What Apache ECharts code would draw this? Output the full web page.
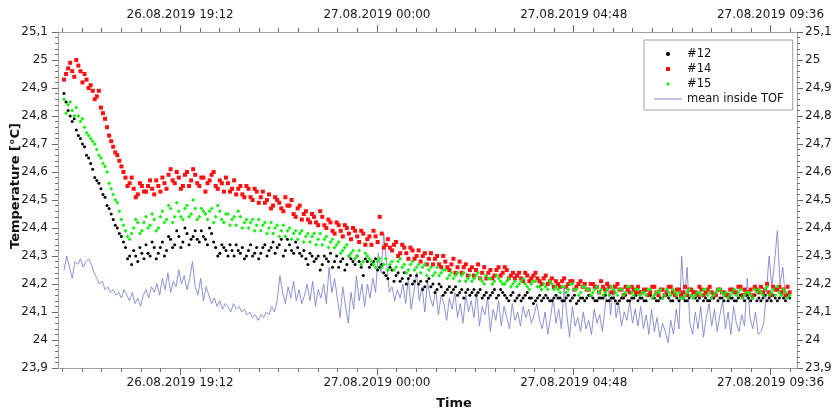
<!DOCTYPE html>
<html>
<head>
<meta charset="utf-8">
<script src="https://cdn.jsdelivr.net/npm/echarts@6/dist/echarts.min.js"></script>
<style>
  html, body { margin: 0; padding: 0; background: #fff; }
  #chart { width: 837px; height: 411px; }
</style>
</head>
<body>
<div id="chart"></div>
<script>
// x values are minutes since 26.08.2019 00:00
const X_MIN = 973.2;
const X_MAX = 2054.8;
const majorTicks = [1152, 1440, 1728, 2016];
const tickLabels = ['26.08.2019 19:12', '27.08.2019 00:00', '27.08.2019 04:48', '27.08.2019 09:36'];

// sensors sampled every 3 min from 16:22, mean every 4 min
const SENSOR_START = 982;
const SENSOR_STEP = 3;
const MEAN_START = 982;
const MEAN_STEP = 4;

const temp12 = [
  24.88, 24.85, 24.82, 24.80, 24.78, 24.79, 24.75, 24.73, 24.72, 24.70, 24.69, 24.66, 24.65, 24.63, 24.61, 24.58, 24.57, 24.56, 24.54, 24.52,
  24.51, 24.48, 24.47, 24.45, 24.43, 24.41, 24.40, 24.38, 24.37, 24.35, 24.33, 24.29, 24.30, 24.27, 24.32, 24.30, 24.28, 24.33, 24.31, 24.29,
  24.34, 24.31, 24.30, 24.35, 24.33, 24.29, 24.31, 24.33, 24.35, 24.30, 24.32, 24.37, 24.36, 24.33, 24.34, 24.39, 24.37, 24.33, 24.35, 24.40,
  24.38, 24.34, 24.36, 24.37, 24.39, 24.36, 24.35, 24.39, 24.37, 24.36, 24.34, 24.40, 24.38, 24.35, 24.33, 24.30, 24.31, 24.34, 24.33, 24.32,
  24.30, 24.34, 24.32, 24.30, 24.34, 24.32, 24.31, 24.33, 24.29, 24.30, 24.32, 24.34, 24.30, 24.31, 24.33, 24.29, 24.31, 24.33, 24.34, 24.30,
  24.32, 24.33, 24.35, 24.31, 24.33, 24.34, 24.36, 24.30, 24.32, 24.36, 24.34, 24.32, 24.31, 24.35, 24.33, 24.31, 24.30, 24.32, 24.29, 24.27,
  24.31, 24.30, 24.28, 24.29, 24.30, 24.25, 24.27, 24.30, 24.29, 24.28, 24.31, 24.26, 24.28, 24.30, 24.26, 24.28, 24.29, 24.25, 24.27, 24.30,
  24.29, 24.28, 24.27, 24.30, 24.28, 24.26, 24.23, 24.29, 24.28, 24.26, 24.27, 24.28, 24.29, 24.25, 24.26, 24.27, 24.24, 24.23, 24.22, 24.26,
  24.25, 24.21, 24.23, 24.24, 24.21, 24.22, 24.24, 24.20, 24.22, 24.23, 24.20, 24.21, 24.23, 24.20, 24.21, 24.18, 24.19, 24.21, 24.22, 24.19,
  24.20, 24.17, 24.18, 24.20, 24.19, 24.16, 24.17, 24.18, 24.19, 24.17, 24.18, 24.19, 24.16, 24.17, 24.18, 24.15, 24.17, 24.18, 24.16, 24.17,
  24.18, 24.16, 24.17, 24.18, 24.15, 24.16, 24.17, 24.15, 24.16, 24.17, 24.18, 24.15, 24.16, 24.18, 24.17, 24.16, 24.15, 24.14, 24.16, 24.17,
  24.14, 24.15, 24.16, 24.14, 24.15, 24.16, 24.17, 24.15, 24.15, 24.13, 24.14, 24.15, 24.16, 24.14, 24.15, 24.16, 24.15, 24.14, 24.14, 24.15,
  24.16, 24.15, 24.15, 24.14, 24.14, 24.15, 24.16, 24.14, 24.15, 24.16, 24.13, 24.14, 24.15, 24.15, 24.14, 24.15, 24.16, 24.16, 24.15, 24.14,
  24.14, 24.15, 24.15, 24.15, 24.16, 24.14, 24.14, 24.15, 24.15, 24.14, 24.13, 24.14, 24.15, 24.15, 24.16, 24.14, 24.14, 24.15, 24.15, 24.16,
  24.14, 24.15, 24.15, 24.14, 24.14, 24.16, 24.16, 24.15, 24.15, 24.14, 24.14, 24.15, 24.15, 24.16, 24.16, 24.15, 24.14, 24.14, 24.16, 24.15,
  24.14, 24.15, 24.15, 24.14, 24.14, 24.15, 24.16, 24.15, 24.15, 24.14, 24.15, 24.16, 24.14, 24.15, 24.14, 24.14, 24.15, 24.15, 24.16, 24.14,
  24.15, 24.15, 24.14, 24.16, 24.14, 24.15, 24.15, 24.14, 24.14, 24.15, 24.16, 24.15, 24.14, 24.16, 24.15, 24.14, 24.15, 24.16, 24.14, 24.15,
  24.14, 24.15, 24.16, 24.14, 24.15, 24.14, 24.16, 24.15, 24.14, 24.15, 24.17, 24.15, 24.14, 24.16, 24.15
];

const temp14 = [
  24.93, 24.95, 24.97, 24.99, 24.96, 24.94, 25.00, 24.98, 24.96, 24.92, 24.95, 24.93, 24.90, 24.91, 24.89, 24.86, 24.87, 24.89, 24.83, 24.81,
  24.79, 24.76, 24.73, 24.71, 24.69, 24.67, 24.66, 24.64, 24.62, 24.60, 24.58, 24.55, 24.56, 24.58, 24.54, 24.51, 24.52, 24.56, 24.55, 24.53,
  24.53, 24.55, 24.57, 24.54, 24.52, 24.57, 24.55, 24.53, 24.58, 24.56, 24.54, 24.59, 24.61, 24.57, 24.56, 24.60, 24.58, 24.54, 24.55, 24.59,
  24.60, 24.55, 24.57, 24.61, 24.59, 24.56, 24.55, 24.58, 24.58, 24.53, 24.56, 24.57, 24.59, 24.60, 24.55, 24.54, 24.57, 24.56, 24.53, 24.58,
  24.56, 24.53, 24.54, 24.57, 24.52, 24.54, 24.55, 24.52, 24.51, 24.55, 24.54, 24.51, 24.50, 24.54, 24.53, 24.49, 24.51, 24.53, 24.49, 24.50,
  24.52, 24.47, 24.48, 24.51, 24.50, 24.49, 24.47, 24.46, 24.51, 24.48, 24.48, 24.50, 24.45, 24.44, 24.47, 24.48, 24.43, 24.45, 24.46, 24.43,
  24.42, 24.45, 24.44, 24.42, 24.41, 24.46, 24.44, 24.41, 24.40, 24.43, 24.42, 24.39, 24.38, 24.42, 24.41, 24.39, 24.37, 24.41, 24.40, 24.38,
  24.36, 24.40, 24.39, 24.37, 24.35, 24.39, 24.38, 24.34, 24.36, 24.37, 24.34, 24.39, 24.37, 24.35, 24.44, 24.38, 24.33, 24.34, 24.36, 24.33,
  24.32, 24.34, 24.35, 24.30, 24.31, 24.34, 24.33, 24.31, 24.29, 24.33, 24.32, 24.29, 24.30, 24.32, 24.28, 24.30, 24.31, 24.27, 24.29, 24.31,
  24.27, 24.29, 24.30, 24.27, 24.26, 24.30, 24.28, 24.26, 24.25, 24.27, 24.29, 24.24, 24.26, 24.28, 24.24, 24.26, 24.27, 24.23, 24.25, 24.26,
  24.23, 24.25, 24.27, 24.22, 24.24, 24.26, 24.22, 24.24, 24.25, 24.22, 24.23, 24.25, 24.26, 24.23, 24.24, 24.26, 24.25, 24.22, 24.23, 24.24,
  24.22, 24.23, 24.24, 24.22, 24.21, 24.24, 24.23, 24.21, 24.22, 24.23, 24.24, 24.22, 24.21, 24.20, 24.22, 24.23, 24.20, 24.21, 24.22, 24.19,
  24.21, 24.20, 24.19, 24.21, 24.22, 24.19, 24.20, 24.21, 24.21, 24.18, 24.19, 24.20, 24.21, 24.19, 24.20, 24.18, 24.18, 24.20, 24.20, 24.19,
  24.19, 24.17, 24.21, 24.19, 24.18, 24.20, 24.19, 24.17, 24.17, 24.19, 24.20, 24.18, 24.18, 24.16, 24.19, 24.18, 24.17, 24.19, 24.18, 24.17,
  24.19, 24.17, 24.17, 24.18, 24.18, 24.16, 24.17, 24.19, 24.19, 24.17, 24.16, 24.18, 24.18, 24.16, 24.17, 24.19, 24.19, 24.17, 24.16, 24.18,
  24.18, 24.16, 24.17, 24.19, 24.16, 24.18, 24.18, 24.17, 24.17, 24.16, 24.19, 24.18, 24.16, 24.17, 24.18, 24.19, 24.17, 24.16, 24.16, 24.18,
  24.18, 24.17, 24.17, 24.16, 24.16, 24.18, 24.18, 24.17, 24.17, 24.19, 24.19, 24.16, 24.18, 24.17, 24.17, 24.18, 24.16, 24.19, 24.18, 24.17,
  24.19, 24.17, 24.18, 24.20, 24.17, 24.16, 24.19, 24.18, 24.18, 24.19, 24.17, 24.18, 24.16, 24.19, 24.17
];

const temp15 = [
  24.86, 24.81, 24.84, 24.85, 24.82, 24.80, 24.83, 24.80, 24.78, 24.79, 24.76, 24.74, 24.73, 24.72, 24.71, 24.70, 24.68, 24.66, 24.65, 24.63,
  24.62, 24.60, 24.56, 24.54, 24.52, 24.50, 24.49, 24.46, 24.43, 24.41, 24.39, 24.37, 24.36, 24.38, 24.40, 24.43, 24.42, 24.38, 24.39, 24.42,
  24.44, 24.40, 24.41, 24.45, 24.43, 24.39, 24.40, 24.44, 24.46, 24.42, 24.43, 24.48, 24.47, 24.42, 24.44, 24.49, 24.46, 24.44, 24.43, 24.47,
  24.48, 24.44, 24.45, 24.50, 24.47, 24.43, 24.44, 24.47, 24.46, 24.45, 24.43, 24.46, 24.47, 24.42, 24.44, 24.48, 24.46, 24.43, 24.42, 24.45,
  24.45, 24.41, 24.43, 24.44, 24.41, 24.46, 24.44, 24.40, 24.42, 24.43, 24.40, 24.42, 24.43, 24.39, 24.41, 24.43, 24.39, 24.41, 24.42, 24.38,
  24.40, 24.42, 24.38, 24.40, 24.41, 24.37, 24.39, 24.41, 24.37, 24.39, 24.40, 24.36, 24.38, 24.39, 24.36, 24.38, 24.39, 24.35, 24.37, 24.38,
  24.35, 24.37, 24.38, 24.34, 24.36, 24.38, 24.34, 24.36, 24.37, 24.33, 24.35, 24.36, 24.33, 24.34, 24.35, 24.31, 24.32, 24.33, 24.34, 24.30,
  24.31, 24.32, 24.29, 24.30, 24.32, 24.27, 24.28, 24.31, 24.30, 24.29, 24.28, 24.27, 24.26, 24.28, 24.29, 24.26, 24.27, 24.29, 24.25, 24.27,
  24.28, 24.25, 24.26, 24.28, 24.29, 24.26, 24.27, 24.24, 24.25, 24.27, 24.28, 24.25, 24.26, 24.27, 24.24, 24.26, 24.27, 24.23, 24.25, 24.26,
  24.23, 24.24, 24.26, 24.23, 24.24, 24.25, 24.25, 24.22, 24.23, 24.24, 24.22, 24.23, 24.24, 24.21, 24.23, 24.24, 24.21, 24.22, 24.23, 24.21,
  24.22, 24.23, 24.24, 24.22, 24.21, 24.20, 24.23, 24.22, 24.22, 24.20, 24.21, 24.23, 24.22, 24.21, 24.20, 24.20, 24.21, 24.22, 24.19, 24.20,
  24.21, 24.19, 24.20, 24.21, 24.22, 24.20, 24.19, 24.18, 24.20, 24.21, 24.21, 24.19, 24.19, 24.18, 24.20, 24.19, 24.18, 24.21, 24.20, 24.18,
  24.19, 24.18, 24.17, 24.19, 24.19, 24.17, 24.18, 24.20, 24.20, 24.18, 24.18, 24.16, 24.17, 24.19, 24.19, 24.18, 24.18, 24.16, 24.17, 24.18,
  24.19, 24.17, 24.18, 24.16, 24.17, 24.18, 24.16, 24.19, 24.18, 24.17, 24.16, 24.18, 24.18, 24.16, 24.17, 24.19, 24.19, 24.17, 24.16, 24.18,
  24.18, 24.16, 24.17, 24.17, 24.16, 24.18, 24.18, 24.15, 24.16, 24.17, 24.17, 24.18, 24.15, 24.16, 24.18, 24.17, 24.16, 24.18, 24.17, 24.16,
  24.17, 24.15, 24.15, 24.16, 24.17, 24.18, 24.16, 24.15, 24.16, 24.17, 24.17, 24.16, 24.18, 24.18, 24.16, 24.17, 24.15, 24.16, 24.17, 24.18,
  24.18, 24.17, 24.16, 24.17, 24.15, 24.16, 24.17, 24.18, 24.16, 24.17, 24.18, 24.15, 24.16, 24.17, 24.17, 24.16, 24.15, 24.18, 24.17, 24.18,
  24.17, 24.16, 24.18, 24.19, 24.16, 24.17, 24.18, 24.16, 24.19, 24.17, 24.16, 24.18, 24.17, 24.15, 24.16
];

const meanTOF = [
  24.25, 24.30, 24.26, 24.22, 24.28, 24.27, 24.29, 24.26, 24.28, 24.29,
  24.27, 24.24, 24.22, 24.20, 24.21, 24.18, 24.19, 24.17, 24.18, 24.16,
  24.17, 24.15, 24.18, 24.16, 24.14, 24.17, 24.13, 24.15, 24.12, 24.16,
  24.18, 24.15, 24.19, 24.17, 24.20, 24.16, 24.22, 24.18, 24.24, 24.17,
  24.21, 24.19, 24.25, 24.20, 24.23, 24.18, 24.22, 24.28, 24.19, 24.16,
  24.22, 24.14, 24.19, 24.16, 24.13, 24.15, 24.12, 24.14, 24.11, 24.13,
  24.12, 24.10, 24.13, 24.11, 24.12, 24.10, 24.11, 24.09, 24.10, 24.08,
  24.09, 24.07, 24.09, 24.08, 24.10, 24.09, 24.12, 24.10, 24.14, 24.23,
  24.17, 24.13, 24.19, 24.15, 24.21, 24.14, 24.18, 24.13, 24.16, 24.20,
  24.14, 24.21, 24.12, 24.18, 24.15, 24.20, 24.13, 24.26, 24.17, 24.22,
  24.15, 24.08, 24.19, 24.12, 24.06, 24.17, 24.11, 24.23, 24.14, 24.20,
  24.12, 24.20, 24.15, 24.22, 24.17, 24.31, 24.24, 24.38, 24.28, 24.17,
  24.19, 24.14, 24.18, 24.15, 24.20, 24.13, 24.22, 24.11, 24.17, 24.24,
  24.14, 24.19, 24.10, 24.21, 24.15, 24.12, 24.18, 24.09, 24.16, 24.13,
  24.07, 24.15, 24.11, 24.17, 24.08, 24.13, 24.06, 24.16, 24.10, 24.14,
  24.08, 24.17, 24.05, 24.12, 24.09, 24.15, 24.03, 24.11, 24.07, 24.14,
  24.05, 24.12, 24.08, 24.04, 24.13, 24.07, 24.10, 24.05, 24.12, 24.08,
  24.11, 24.06, 24.09, 24.13, 24.07, 24.04, 24.10, 24.02, 24.08, 24.15,
  24.06, 24.11, 24.04, 24.19, 24.09, 24.01, 24.12, 24.05, 24.08, 24.03,
  24.10, 24.04, 24.07, 24.02, 24.11, 24.06, 24.09, 24.03, 24.12, 24.21,
  24.09, 24.20, 24.08, 24.13, 24.05, 24.10, 24.07, 24.14, 24.06, 24.11,
  24.05, 24.12, 24.04, 24.09, 24.02, 24.11, 24.03, 24.08, 24.01, 24.06,
  24.03, 23.99, 24.07, 24.02, 24.11, 24.04, 24.30, 24.14, 24.26, 24.06,
  24.02, 24.10, 24.04, 24.12, 24.01, 24.08, 24.13, 24.05, 24.11, 24.03,
  24.09, 24.14, 24.04, 24.10, 24.02, 24.12, 24.06, 24.03, 24.09, 24.05,
  24.22, 24.08, 24.04, 24.10, 24.02, 24.03, 24.06, 24.17, 24.30, 24.19,
  24.28, 24.39, 24.20, 24.26, 24.14
];

const FONT = 'DejaVu Sans';
const AXIS_COLOR = '#a0a0a0';
const TICK_COLOR = '#6e6e6e';
const MEAN_COLOR = '#8585cc';

// minor ticks every 28.8 min, aligned on the major ones
let minorTicks = [];
for (let k = 0; majorTicks[0] - 28.8 * 6 + 28.8 * k <= X_MAX; k++) {
  minorTicks.push(Math.round((majorTicks[0] - 28.8 * 6 + 28.8 * k) * 10) / 10);
}

function toPoints(values, start, step) {
  return values.map(function (v, i) { return [start + i * step, v]; });
}

function fmtX(value) {
  let idx = majorTicks.findIndex(function (t) { return Math.abs(t - value) < 0.5; });
  return idx >= 0 ? tickLabels[idx] : '';
}

function fmtY(value) {
  return String(Math.round(value * 10) / 10).replace('.', ',');
}

function makeX(position, major) {
  return {
    type: 'value',
    position: position,
    min: X_MIN,
    max: X_MAX,
    axisLine: {show: !major, onZero: false, lineStyle: {color: AXIS_COLOR}},
    axisTick: {
      show: true,
      length: major ? 7 : 4,
      customValues: major ? majorTicks : minorTicks,
      lineStyle: {color: TICK_COLOR}
    },
    axisLabel: major ? {show: false} : {
      show: true,
      customValues: majorTicks,
      formatter: fmtX,
      margin: position === 'top' ? 11 : 9,
      fontFamily: FONT,
      fontSize: 12,
      color: '#1a1a1a'
    },
    splitLine: {show: false}
  };
}

function makeY(position) {
  return {
    type: 'value',
    position: position,
    min: 23.9,
    max: 25.1,
    interval: 0.1,
    axisLine: {show: true, lineStyle: {color: AXIS_COLOR}},
    axisTick: {show: true, length: 6, lineStyle: {color: TICK_COLOR}},
    minorTick: {show: true, splitNumber: 5, length: 3, lineStyle: {color: TICK_COLOR}},
    axisLabel: {
      formatter: fmtY,
      margin: position === 'left' ? 10 : 8,
      fontFamily: FONT,
      fontSize: 12,
      color: '#1a1a1a'
    },
    splitLine: {show: false}
  };
}

let chart = echarts.init(document.getElementById('chart'));
let option = {
  animation: false,
  backgroundColor: '#fff',
  grid: {left: 58, right: 40, top: 32, bottom: 43},
  xAxis: [makeX('bottom', false), makeX('top', false), makeX('bottom', true), makeX('top', true)],
  yAxis: [makeY('left'), makeY('right')],
  legend: {
    orient: 'vertical',
    left: 644,
    top: 40,
    padding: [8, 9, 5, 10],
    itemWidth: 28,
    itemHeight: 4,
    itemGap: 3,
    symbolKeepAspect: true,
    borderColor: AXIS_COLOR,
    borderWidth: 1,
    backgroundColor: '#fff',
    textStyle: {fontFamily: FONT, fontSize: 11.5, color: '#111'},
    data: [
      {name: '#12', icon: 'circle'},
      {name: '#14', icon: 'path://M0,0L10,0L10,10L0,10Z'},
      {name: '#15', icon: 'path://M5,0L10,5L5,10L0,5Z'},
      {name: 'mean inside TOF', icon: 'path://M0,0L28,0L28,1L0,1Z'}
    ]
  },
  graphic: [
    {
      type: 'text', x: 16, y: 186, rotation: Math.PI / 2,
      style: {text: 'Temperature [°C]', fontFamily: FONT, fontSize: 13, fontWeight: 'bold',
        fill: '#111', align: 'center', verticalAlign: 'middle'}
    },
    {
      type: 'text', x: 454, y: 404,
      style: {text: 'Time', fontFamily: FONT, fontSize: 13, fontWeight: 'bold',
        fill: '#111', align: 'center', verticalAlign: 'middle'}
    }
  ],
  series: [
    {
      name: 'mean inside TOF',
      type: 'line',
      symbol: 'none',
      data: toPoints(meanTOF, MEAN_START, MEAN_STEP),
      lineStyle: {color: MEAN_COLOR, width: 0.9},
      itemStyle: {color: MEAN_COLOR},
      z: 1
    },
    {
      name: '#12',
      type: 'scatter',
      symbol: 'circle',
      symbolSize: 3,
      data: toPoints(temp12, SENSOR_START, SENSOR_STEP),
      itemStyle: {color: '#000000', opacity: 1},
      z: 2
    },
    {
      name: '#14',
      type: 'scatter',
      symbol: 'rect',
      symbolSize: 4,
      data: toPoints(temp14, SENSOR_START, SENSOR_STEP),
      itemStyle: {color: '#ff1010', opacity: 1},
      z: 3
    },
    {
      name: '#15',
      type: 'scatter',
      symbol: 'diamond',
      symbolSize: 4,
      data: toPoints(temp15, SENSOR_START, SENSOR_STEP),
      itemStyle: {color: '#16ee16', opacity: 1},
      z: 4
    }
  ]
};
option && chart.setOption(option);
</script>
</body>
</html>
